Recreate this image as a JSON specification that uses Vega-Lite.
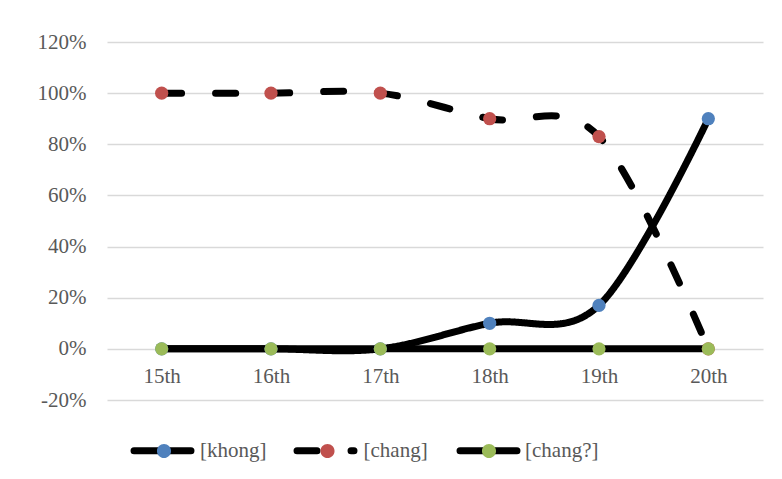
{
  "$schema": "https://vega.github.io/schema/vega-lite/v6.json",
  "width": 656,
  "height": 358,
  "autosize": {"type": "none"},
  "padding": {"left": 107, "top": 42, "right": 19, "bottom": 79},
  "background": "white",
  "config": {
    "font": "Liberation Serif",
    "view": {"stroke": null}
  },
  "data": {
    "values": [
      {"century": "15th", "series": "[khong]", "share": 0},
      {"century": "16th", "series": "[khong]", "share": 0},
      {"century": "17th", "series": "[khong]", "share": 0},
      {"century": "18th", "series": "[khong]", "share": 0.10},
      {"century": "19th", "series": "[khong]", "share": 0.17},
      {"century": "20th", "series": "[khong]", "share": 0.90},
      {"century": "15th", "series": "[chang]", "share": 1.00},
      {"century": "16th", "series": "[chang]", "share": 1.00},
      {"century": "17th", "series": "[chang]", "share": 1.00},
      {"century": "18th", "series": "[chang]", "share": 0.90},
      {"century": "19th", "series": "[chang]", "share": 0.83},
      {"century": "20th", "series": "[chang]", "share": 0},
      {"century": "15th", "series": "[chang?]", "share": 0},
      {"century": "16th", "series": "[chang?]", "share": 0},
      {"century": "17th", "series": "[chang?]", "share": 0},
      {"century": "18th", "series": "[chang?]", "share": 0},
      {"century": "19th", "series": "[chang?]", "share": 0},
      {"century": "20th", "series": "[chang?]", "share": 0}
    ]
  },
  "encoding": {
    "x": {
      "field": "century",
      "type": "ordinal",
      "sort": ["15th", "16th", "17th", "18th", "19th", "20th"],
      "scale": {"type": "point", "padding": 0.5},
      "axis": {
        "title": null,
        "orient": "bottom",
        "offset": -51.14,
        "domain": false,
        "ticks": false,
        "tickSize": 0,
        "grid": false,
        "labelAngle": 0,
        "labelPadding": 17,
        "labelFontSize": 21,
        "labelColor": "#595959"
      }
    },
    "y": {
      "field": "share",
      "type": "quantitative",
      "scale": {"domain": [-0.2, 1.2], "nice": false, "zero": false},
      "axis": {
        "title": null,
        "values": [-0.2, 0, 0.2, 0.4, 0.6, 0.8, 1.0, 1.2],
        "labelExpr": "round(datum.value * 100) + '%'",
        "domain": false,
        "ticks": false,
        "tickSize": 0,
        "grid": true,
        "gridColor": "#d9d9d9",
        "gridWidth": 1.3,
        "labelPadding": 21,
        "labelFontSize": 21,
        "labelColor": "#595959"
      }
    }
  },
  "layer": [
    {
      "mark": {
        "type": "line",
        "interpolate": "cardinal",
        "stroke": "black",
        "strokeWidth": 7,
        "strokeCap": "round"
      },
      "encoding": {
        "strokeDash": {
          "field": "series",
          "type": "nominal",
          "scale": {
            "domain": ["[khong]", "[chang]", "[chang?]"],
            "range": [[1, 0], [20, 34], [1, 0]]
          },
          "legend": {
            "orient": "none",
            "legendX": 20,
            "legendY": 373,
            "direction": "horizontal",
            "title": null,
            "padding": 0,
            "symbolType": "M-0.89,0L0.89,0",
            "symbolSize": 4096,
            "symbolStrokeWidth": 7,
            "symbolStrokeColor": "black",
            "labelExpr": "''",
            "labelOffset": 4,
            "gridAlign": "all",
            "columnPadding": 78,
            "encode": {"symbols": {"update": {"strokeCap": {"value": "round"}}}}
          }
        }
      }
    },
    {
      "mark": {"type": "point", "filled": true, "size": 175, "opacity": 1},
      "encoding": {
        "color": {
          "field": "series",
          "type": "nominal",
          "sort": ["[khong]", "[chang]", "[chang?]"],
          "scale": {"range": ["#4f81bd", "#c0504d", "#9bbb59"]},
          "legend": {
            "orient": "none",
            "legendX": 25,
            "legendY": 377,
            "direction": "horizontal",
            "title": null,
            "padding": 0,
            "symbolType": "M-1,0L1,0M-0.22,0A0.22,0.22,0,1,1,0.22,0A0.22,0.22,0,1,1,-0.22,0Z",
            "symbolSize": 4096,
            "symbolStrokeWidth": 0,
            "symbolOpacity": 1,
            "labelFontSize": 21,
            "labelColor": "#595959",
            "labelOffset": 4,
            "columnPadding": 28.5
          }
        }
      }
    }
  ]
}
